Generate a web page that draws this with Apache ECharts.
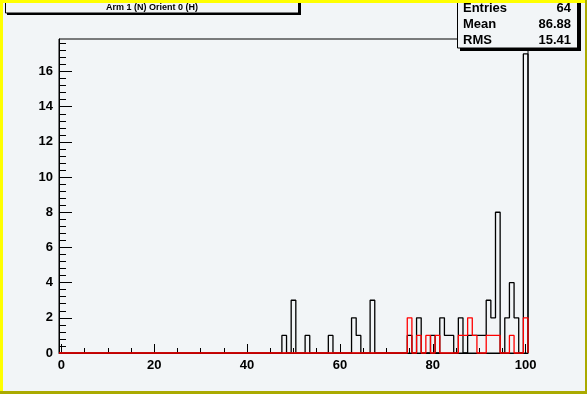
<!DOCTYPE html>
<html>
<head>
<meta charset="utf-8">
<script src="https://cdn.jsdelivr.net/npm/echarts@6/dist/echarts.min.js"></script>
<style>
html,body{margin:0;padding:0;background:#f2f5f7;}
#c{width:587px;height:394px;}
</style>
</head>
<body>
<div id="c"></div>
<script>
// Histogram data (bin centre -> count), bins of width 1 from -0.5 to 100.5
const blackBins   = [48,50,53,58,63,64,67,75,77,80,82,83,84,86,88,89,90,91,92,93,94,96,97,98,100];
const blackCounts = [1, 3, 1, 1, 2, 1, 3, 1, 2, 1, 2, 1, 1, 2, 1, 1, 1, 1, 3, 2, 8, 2, 4, 2, 17];
const redBins     = [75,77,79,81,86,87,88,89,92,93,94,97,100];
const redCounts   = [2, 1, 1, 1, 1, 1, 2, 1, 1, 1, 1, 1, 2];
const xTickLabels = [0,20,40,60,80,100];
const yTickLabels = [0,2,4,6,8,10,12,14,16];
const titleText = 'Arm 1 (N) Orient 0 (H)';
const statNames = ['Entries','Mean','RMS'];
const statValues = ['64','86.88','15.41'];

function stepLine(bins, counts){
  const full = new Array(101).fill(0);
  bins.forEach((b,i)=>{ full[b] = counts[i]; });
  const pts = [[-0.5,0]];
  for(let k=0;k<=100;k++){
    pts.push([k-0.5, full[k]]);
    pts.push([k+0.5, full[k]]);
  }
  pts.push([100.5,0]);
  return pts;
}
const xMinor = []; for(let v=0; v<=100; v+=5) xMinor.push(v);
const yMinor = []; for(let i=0; i<=44; i++) yMinor.push(Math.round(i*0.4*100)/100);

const BG = '#f2f5f7';
const font = 'Liberation Sans, Arial, Helvetica, sans-serif';
const chart = echarts.init(document.getElementById('c'), null, {renderer:'canvas'});

const graphics = [
  // canvas bevel border
  {type:'rect', shape:{x:0,y:0,width:587,height:3}, style:{fill:'#ffff00'}, z:100},
  {type:'rect', shape:{x:0,y:0,width:3,height:394}, style:{fill:'#ffff00'}, z:100},
  {type:'rect', shape:{x:585,y:0,width:2,height:394}, style:{fill:'#aaaa00'}, z:100},
  {type:'rect', shape:{x:0,y:391,width:587,height:3}, style:{fill:'#aaaa00'}, z:100},
  // title box with shadow
  {type:'rect', shape:{x:7,y:0,width:294,height:15}, style:{fill:'#000'}, z:50},
  {type:'rect', shape:{x:5.5,y:-2,width:293,height:15}, style:{fill:BG, stroke:'#000', lineWidth:1}, z:51},
  {type:'text', x:152, y:8, style:{text:titleText, font:'bold 9px '+font, fill:'#000', align:'center', verticalAlign:'middle'}, z:52},
  // stats box with shadow
  {type:'rect', shape:{x:460,y:0,width:121,height:51}, style:{fill:'#000'}, z:50},
  {type:'rect', shape:{x:457.5,y:-2,width:120,height:50}, style:{fill:BG, stroke:'#000', lineWidth:1}, z:51}
];
statNames.forEach((n,i)=>{
  graphics.push({type:'text', x:463, y:8+16*i, style:{text:n, font:'bold 13px '+font, fill:'#000', align:'left', verticalAlign:'middle'}, z:52});
  graphics.push({type:'text', x:571, y:8+16*i, style:{text:statValues[i], font:'bold 13px '+font, fill:'#000', align:'right', verticalAlign:'middle'}, z:52});
});

chart.setOption({
  animation:false,
  backgroundColor:BG,
  grid:{left:59, top:39, width:469, height:314, show:true, borderColor:'#000', borderWidth:1, backgroundColor:BG, containLabel:false},
  xAxis:[
    {type:'value', min:-0.5, max:100.5, position:'bottom',
     axisLine:{show:true, onZero:false, lineStyle:{color:'#000', width:1}},
     axisTick:{show:true, inside:true, length:9, customValues:xTickLabels, lineStyle:{color:'#000'}},
     axisLabel:{show:true, customValues:xTickLabels, margin:6, color:'#000', fontSize:13, fontWeight:'bold', fontFamily:font},
     splitLine:{show:false}},
    {type:'value', min:-0.5, max:100.5, position:'bottom',
     axisLine:{show:false, onZero:false},
     axisTick:{show:true, inside:true, length:5, customValues:xMinor, lineStyle:{color:'#000'}},
     axisLabel:{show:false}, splitLine:{show:false}}
  ],
  yAxis:[
    {type:'value', min:0, max:17.85, position:'left',
     axisLine:{show:true, onZero:false, lineStyle:{color:'#000', width:1}},
     axisTick:{show:true, inside:true, length:13, customValues:yTickLabels, lineStyle:{color:'#000'}},
     axisLabel:{show:true, customValues:yTickLabels, margin:6, color:'#000', fontSize:13, fontWeight:'bold', fontFamily:font},
     splitLine:{show:false}},
    {type:'value', min:0, max:17.85, position:'left',
     axisLine:{show:false, onZero:false},
     axisTick:{show:true, inside:true, length:7, customValues:yMinor, lineStyle:{color:'#000'}},
     axisLabel:{show:false}, splitLine:{show:false}}
  ],
  series:[
    {type:'line', data:stepLine(blackBins, blackCounts), xAxisIndex:0, yAxisIndex:0, showSymbol:false, symbol:'none',
     lineStyle:{color:'#000', width:1.3}, z:3, clip:false},
    {type:'line', data:stepLine(redBins, redCounts), xAxisIndex:0, yAxisIndex:0, showSymbol:false, symbol:'none',
     lineStyle:{color:'#ff0000', width:1.3}, z:4, clip:false}
  ],
  graphic:graphics
});
</script>
</body>
</html>
